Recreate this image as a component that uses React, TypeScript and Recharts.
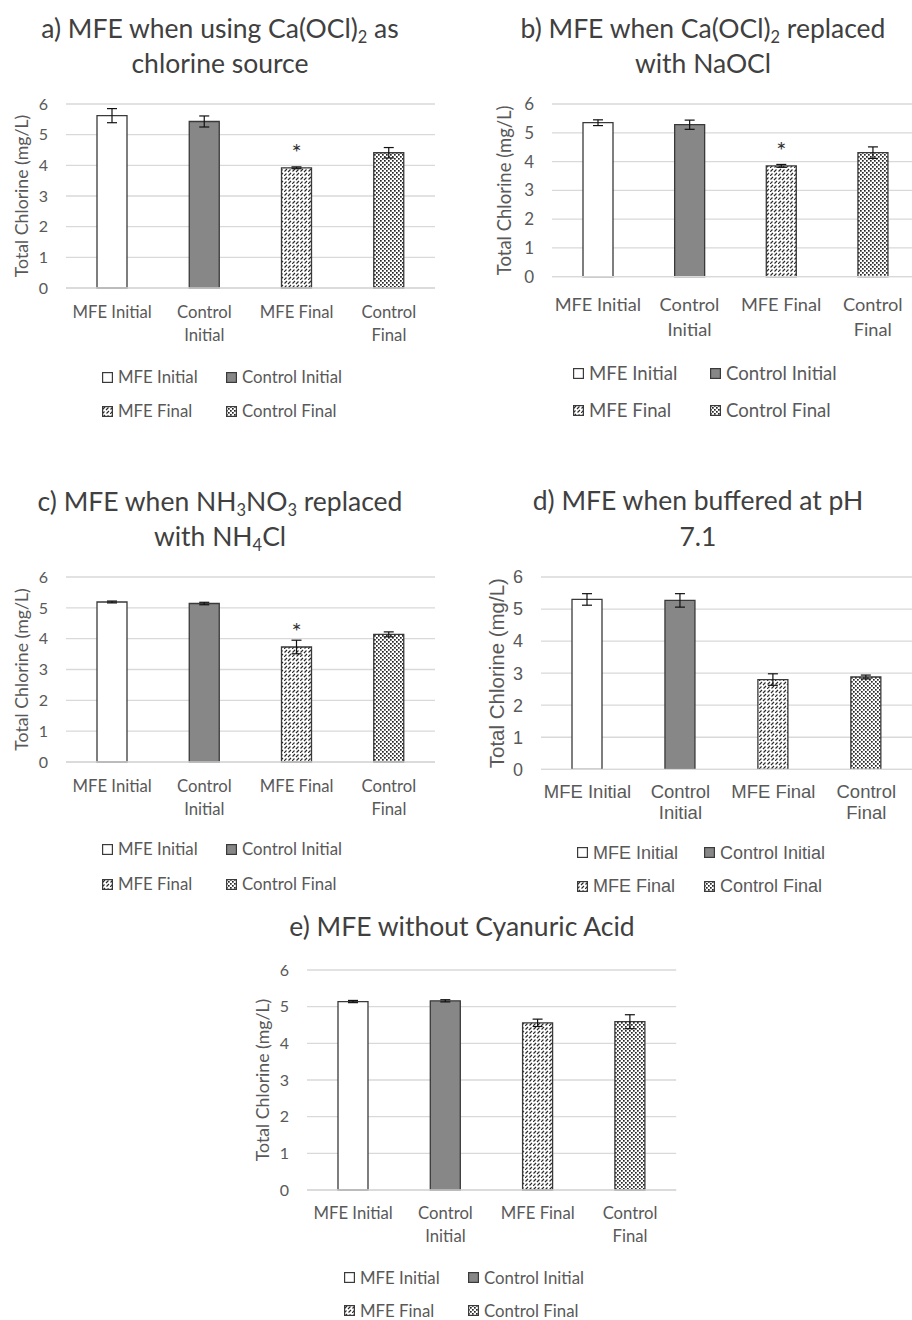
import React from "react";
import { BarChart, Bar, XAxis, YAxis, CartesianGrid, Cell, ErrorBar, LabelList } from "recharts";

// categories and tick labels
const categories = ["MFE Initial", "Control Initial", "MFE Final", "Control Final"];
const categoryLines = [["MFE Initial"], ["Control", "Initial"], ["MFE Final"], ["Control", "Final"]];
const yTicks = [0, 1, 2, 3, 4, 5, 6];
const yLabel = "Total Chlorine (mg/L)";

// a) Ca(OCl)2 as chlorine source
const chlorineA = [5.62, 5.43, 3.92, 4.41];
const errorA = [0.23, 0.18, 0.03, 0.17];
const starA = ["", "", "*", ""];

// b) NaOCl
const chlorineB = [5.35, 5.28, 3.85, 4.31];
const errorB = [0.1, 0.16, 0.05, 0.2];
const starB = ["", "", "*", ""];

// c) NH4Cl
const chlorineC = [5.19, 5.14, 3.73, 4.14];
const errorC = [0.03, 0.04, 0.22, 0.08];
const starC = ["", "", "*", ""];

// d) buffered at pH 7.1
const chlorineD = [5.3, 5.27, 2.8, 2.88];
const errorD = [0.18, 0.21, 0.18, 0.06];
const starD = ["", "", "", ""];

// e) without cyanuric acid
const chlorineE = [5.14, 5.16, 4.56, 4.59];
const errorE = [0.03, 0.03, 0.1, 0.19];
const starE = ["", "", "", ""];

const LATO = "Lato, 'Open Sans', sans-serif";
const ARIAL = "'Liberation Sans', Arial, sans-serif";
const TEXT = "#595959";
const EDGE = "#3a3a3a";

const sub: React.CSSProperties = { fontSize: "0.62em", verticalAlign: "-0.3em", lineHeight: 0 };

type PanelProps = {
  id: string;
  title: React.ReactNode[];
  values: number[];
  errors: number[];
  stars: string[];
  plot: { l: number; r: number; t: number; b: number };
  titleX: number;
  titleY: number;
  titleGap: number;
  titleSize: number;
  font: string;
  tickSize: number;
  catSize: number;
  catDy: number;
  catGap: number;
  labelSize: number;
  labelOffset: number;
  legendSize: number;
  legend: { x: number; col: number; y1: number; y2: number };
};

function fills(id: string) {
  return ["#ffffff", "#878787", `url(#hatch-${id})`, `url(#dots-${id})`];
}

function Patterns({ id }: { id: string }) {
  return (
    <defs>
      <pattern id={`hatch-${id}`} patternUnits="userSpaceOnUse" width="8" height="8">
        <rect width="8" height="8" fill="#ffffff" />
        <path
          d="M0,8 L2.5,5.5 M4,4 L6.5,1.5 M0.5,3.5 L3,1 M4.5,7.5 L7,5"
          stroke="#2b2b2b"
          strokeWidth="1.15"
        />
      </pattern>
      <pattern id={`dots-${id}`} patternUnits="userSpaceOnUse" width="4" height="4">
        <rect width="4" height="4" fill="#ffffff" />
        <rect x="0" y="0" width="1.7" height="1.7" fill="#262626" />
        <rect x="2" y="2" width="1.7" height="1.7" fill="#262626" />
      </pattern>
    </defs>
  );
}

function Panel(p: PanelProps) {
  const data = categories.map((name, i) => ({
    name,
    value: p.values[i],
    err: p.errors[i],
    star: p.stars[i],
  }));
  const svgLeft = p.plot.l - 70;
  const svgTop = p.plot.t - 16;
  const width = p.plot.r + 4 - svgLeft;
  const height = p.plot.b + 70 - svgTop;
  const colors = fills(p.id);

  const CatTick = (props: any) => {
    const { x, y, payload, index } = props;
    const lines = categoryLines[index] || [payload.value];
    return (
      <text
        x={x}
        y={y + p.catDy}
        textAnchor="middle"
        fill={TEXT}
        fontSize={p.catSize}
        fontFamily={p.font}
      >
        {lines.map((ln, i) => (
          <tspan key={i} x={x} dy={i === 0 ? 0 : p.catGap}>
            {ln}
          </tspan>
        ))}
      </text>
    );
  };

  return (
    <>
      <div
        style={{
          position: "absolute",
          left: p.titleX - 300,
          top: p.titleY - p.titleGap / 2,
          width: 600,
          textAlign: "center",
          fontFamily: LATO,
          fontSize: p.titleSize,
          lineHeight: `${p.titleGap}px`,
          color: "#404040",
        }}
      >
        {p.title.map((t, i) => (
          <div key={i}>{t}</div>
        ))}
      </div>
      <div style={{ position: "absolute", left: svgLeft, top: svgTop }}>
        <BarChart
          width={width}
          height={height}
          data={data}
          margin={{ top: 16, right: 4, left: 8, bottom: 20 }}
          barSize={30}
        >
          <Patterns id={p.id} />
          <CartesianGrid vertical={false} stroke="#d9d9d9" strokeWidth={1.3} />
          <XAxis
            dataKey="name"
            height={50}
            axisLine={{ stroke: "#d9d9d9", strokeWidth: 1.3 }}
            tickLine={false}
            tickSize={0}
            tickMargin={0}
            interval={0}
            tick={<CatTick />}
          />
          <YAxis
            domain={[0, 6]}
            ticks={yTicks}
            width={62}
            axisLine={false}
            tickLine={false}
            tickSize={0}
            tickMargin={18}
            tick={{ fill: TEXT, fontSize: p.tickSize, fontFamily: p.font }}
            label={{
              value: yLabel,
              angle: -90,
              position: "insideLeft",
              offset: p.labelOffset,
              style: { textAnchor: "middle", fill: TEXT, fontSize: p.labelSize, fontFamily: p.font },
            }}
          />
          <Bar dataKey="value" stroke={EDGE} strokeWidth={1.3} isAnimationActive={false}>
            {data.map((d, i) => (
              <Cell key={d.name} fill={colors[i]} />
            ))}
            <ErrorBar dataKey="err" width={5} stroke="#111111" strokeWidth={1.2} direction="y" />
            <LabelList
              dataKey="star"
              position="top"
              offset={7}
              fill="#333333"
              stroke="none"
              fontSize={24}
              fontFamily={p.font}
              style={{ fill: "#333333" }}
            />
          </Bar>
        </BarChart>
      </div>
      {categories.map((name, i) => {
        const col = i % 2;
        const row = Math.floor(i / 2);
        return (
          <div
            key={name}
            style={{
              position: "absolute",
              left: p.legend.x + col * p.legend.col,
              top: (row === 0 ? p.legend.y1 : p.legend.y2) - 9,
              height: 18,
              display: "flex",
              alignItems: "center",
              fontFamily: p.font,
              fontSize: p.legendSize,
              lineHeight: "18px",
              color: TEXT,
              whiteSpace: "nowrap",
            }}
          >
            <svg width={11} height={11} style={{ marginRight: 5 }}>
              <rect x={0.6} y={0.6} width={9.8} height={9.8} fill={colors[i]} stroke={EDGE} strokeWidth={1.2} />
            </svg>
            <span>{name}</span>
          </div>
        );
      })}
    </>
  );
}

const common = {
  titleGap: 35,
  titleSize: 26.5,
  font: LATO,
  tickSize: 16,
  catSize: 16.7,
  catDy: 29.5,
  catGap: 23,
  labelSize: 17.7,
  labelOffset: 18,
  legendSize: 16.8,
};

export default function App() {
  return (
    <div
      style={{
        position: "absolute",
        left: 0,
        top: 0,
        width: 912,
        height: 1320,
        overflow: "hidden",
        background: "#ffffff",
      }}
    >
      <Panel
        {...common}
        id="a"
        title={[
          <>a) MFE when using Ca(OCl)<sub style={sub}>2</sub> as</>,
          <>chlorine source</>,
        ]}
        values={chlorineA}
        errors={errorA}
        stars={starA}
        plot={{ l: 66, r: 435, t: 104, b: 288 }}
        titleX={220}
        titleY={28}
        legend={{ x: 102, col: 124, y1: 377, y2: 411 }}
      />
      <Panel
        {...common}
        id="b"
        title={[
          <>b) MFE when Ca(OCl)<sub style={sub}>2</sub> replaced</>,
          <>with NaOCl</>,
        ]}
        values={chlorineB}
        errors={errorB}
        stars={starB}
        plot={{ l: 552, r: 918.6, t: 104, b: 276.7 }}
        titleX={703}
        titleY={28}
        tickSize={17}
        catSize={18.2}
        catDy={34}
        catGap={25}
        labelSize={18.5}
        labelOffset={14}
        legendSize={18.6}
        legend={{ x: 573, col: 137, y1: 373, y2: 410 }}
      />
      <Panel
        {...common}
        id="c"
        title={[
          <>c) MFE when NH<sub style={sub}>3</sub>NO<sub style={sub}>3</sub> replaced</>,
          <>with NH<sub style={sub}>4</sub>Cl</>,
        ]}
        values={chlorineC}
        errors={errorC}
        stars={starC}
        plot={{ l: 66, r: 435, t: 576.7, b: 761.7 }}
        titleX={220}
        titleY={501.7}
        legend={{ x: 102, col: 124, y1: 849.3, y2: 884.3 }}
      />
      <Panel
        {...common}
        id="d"
        title={[<>d) MFE when buffered at pH</>, <>7.1</>]}
        values={chlorineD}
        errors={errorD}
        stars={starD}
        plot={{ l: 541.2, r: 913, t: 576.7, b: 769 }}
        titleX={698}
        titleY={500}
        titleGap={36.7}
        font={ARIAL}
        tickSize={18}
        catSize={18.5}
        catDy={29}
        catGap={21}
        labelSize={20.5}
        labelOffset={18}
        legendSize={18}
        legend={{ x: 577, col: 127, y1: 852.7, y2: 886 }}
      />
      <Panel
        {...common}
        id="e"
        title={[<>e) MFE without Cyanuric Acid</>]}
        values={chlorineE}
        errors={errorE}
        stars={starE}
        plot={{ l: 307.1, r: 676.3, t: 970, b: 1190 }}
        titleX={462}
        titleY={926.7}
        legend={{ x: 344, col: 124, y1: 1277.7, y2: 1310.5 }}
      />
    </div>
  );
}
